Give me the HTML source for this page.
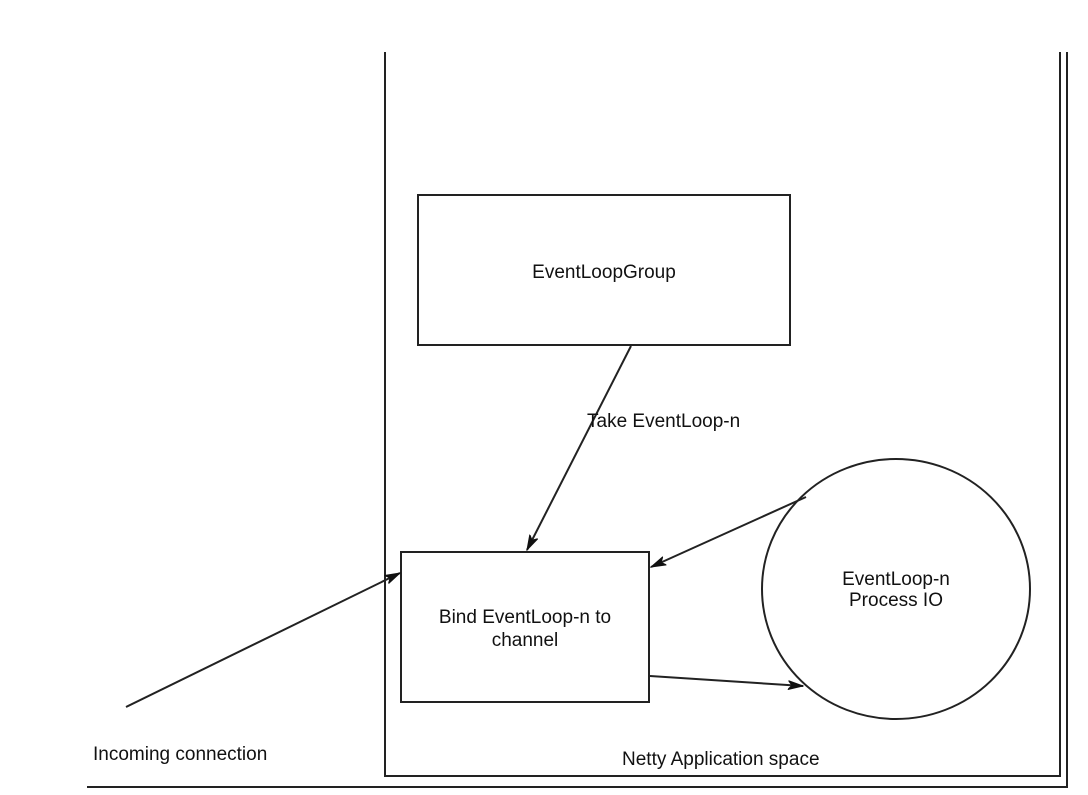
<!DOCTYPE html>
<html><head><meta charset="utf-8"><style>
html,body{margin:0;padding:0;background:#fff;}
svg{display:block;}
text{font-family:"Liberation Sans",Arial,sans-serif;font-size:19px;fill:#111;}
</style></head><body>
<svg width="1088" height="795" viewBox="0 0 1088 795" xmlns="http://www.w3.org/2000/svg">
<defs>
<marker id="a" markerWidth="16" markerHeight="10" refX="15" refY="5" orient="auto" markerUnits="userSpaceOnUse">
<path d="M0,0.5 L15,5 L0,9.5 L4,5 Z" fill="#111" stroke="#111" stroke-width="1"/>
</marker>
</defs>
<g stroke="#222" stroke-width="2" fill="none">
<polyline points="385,52 385,776 1060,776 1060,52"/>
<polyline points="87,787 1067,787 1067,52"/>
<rect x="418" y="195" width="372" height="150"/>
<rect x="401" y="552" width="248" height="150"/>
<ellipse cx="896" cy="589" rx="134" ry="130"/>
<line x1="631" y1="346" x2="527" y2="550" marker-end="url(#a)"/>
<line x1="806" y1="497" x2="651" y2="567" marker-end="url(#a)"/>
<line x1="650" y1="676" x2="803" y2="686" marker-end="url(#a)"/>
<line x1="126" y1="707" x2="400" y2="573" marker-end="url(#a)"/>
</g>
<text x="604" y="278" text-anchor="middle">EventLoopGroup</text>
<text x="587" y="427">Take EventLoop-n</text>
<text x="525" y="623" text-anchor="middle">Bind EventLoop-n to</text>
<text x="525" y="646" text-anchor="middle">channel</text>
<text x="896" y="585" text-anchor="middle">EventLoop-n</text>
<text x="896" y="606" text-anchor="middle">Process IO</text>
<text x="93" y="760">Incoming connection</text>
<text x="622" y="765">Netty Application space</text>
</svg>
</body></html>
